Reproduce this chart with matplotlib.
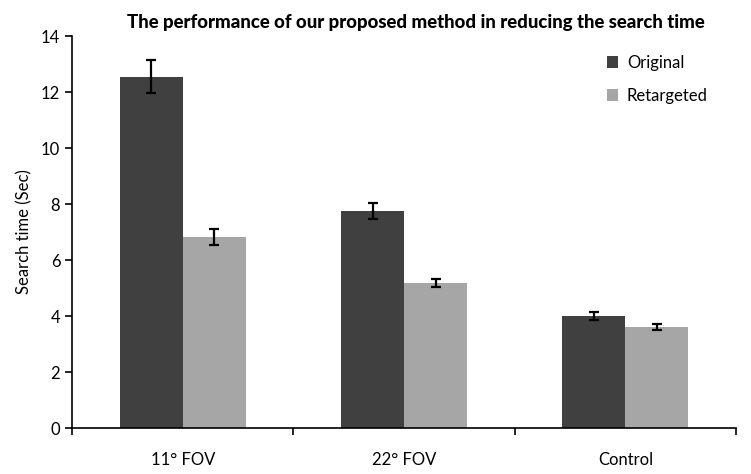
import matplotlib
matplotlib.use('Agg')
import matplotlib.pyplot as plt
import numpy as np

categories = ['11° FOV', '22° FOV', 'Control']
original = [12.55, 7.75, 4.0]
original_err = [0.6, 0.27, 0.15]
retargeted = [6.82, 5.18, 3.6]
retargeted_err = [0.3, 0.13, 0.1]

plt.rcParams['font.family'] = ['Lato', 'DejaVu Sans']

fig = plt.figure(figsize=(7.51, 4.74), dpi=100)
ax = fig.add_axes([0.096, 0.097, 0.884, 0.827])

x = np.arange(len(categories))
w = 0.285
ekw = dict(ecolor='black', elinewidth=1.6, capsize=3.5, capthick=1.6)
ax.bar(x - w/2, original, w, color='#404040', label='Original',
       yerr=original_err, error_kw=ekw)
ax.bar(x + w/2, retargeted, w, color='#A6A6A6', label='Retargeted',
       yerr=retargeted_err, error_kw=ekw)

ax.set_xlim(-0.5, 2.5)
ax.set_ylim(0, 14)
ax.set_yticks(range(0, 15, 2))
ax.set_xticks(x)
ax.set_xticklabels(categories, fontsize=12)
ax.set_xticks([-0.5, 0.5, 1.5, 2.5], minor=True)
ax.tick_params(axis='x', which='major', length=0, pad=17)
ax.tick_params(axis='x', which='minor', length=5, width=1.2)
ax.tick_params(axis='y', length=5, width=1.2, labelsize=12)
ax.set_ylabel('Search time (Sec)', fontsize=12, labelpad=6)
ax.set_title('The performance of our proposed method in reducing the search time',
             fontsize=13.4, fontweight='black', pad=6, x=0.518)

for s in ['top', 'right']:
    ax.spines[s].set_visible(False)
for s in ['left', 'bottom']:
    ax.spines[s].set_linewidth(1.2)

ax.legend(loc='upper right', frameon=False, fontsize=12, handlelength=0.7,
          handleheight=0.7, labelspacing=1.0, handletextpad=0.5,
          bbox_to_anchor=(0.98, 0.99))

plt.savefig('out.png', dpi=100)
